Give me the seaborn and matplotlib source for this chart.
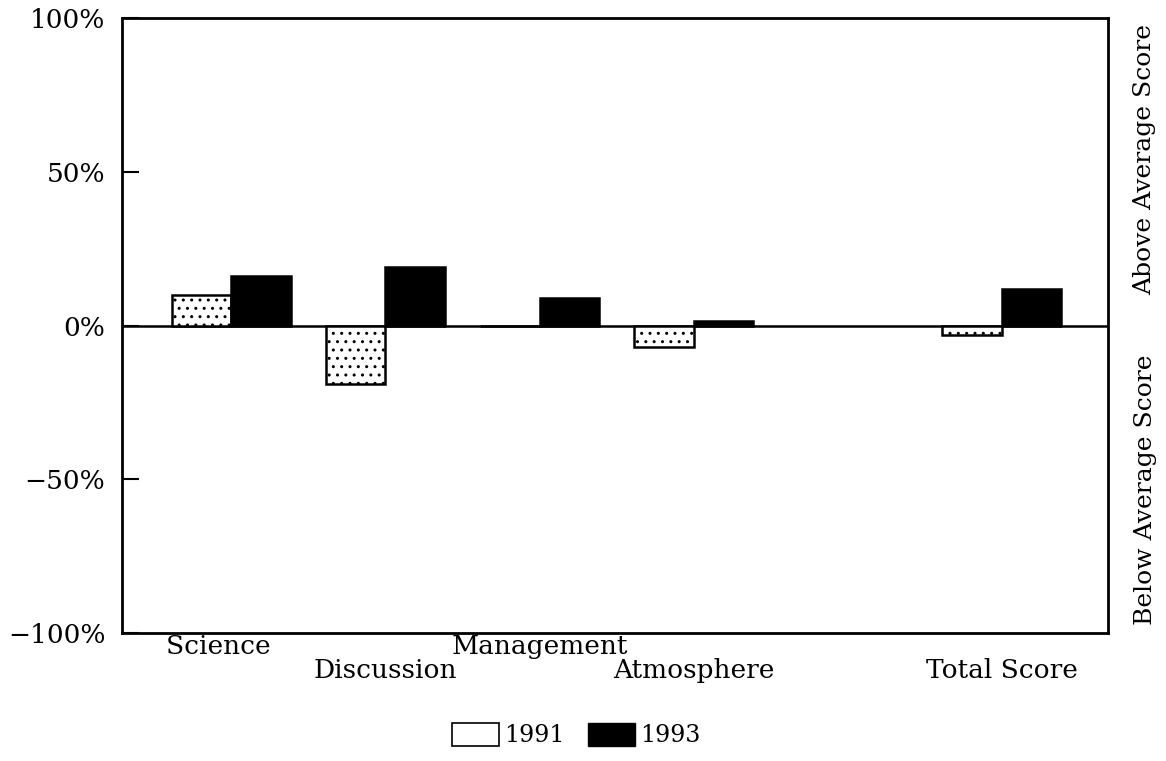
import pandas as pd
import numpy as np
import matplotlib
matplotlib.use("Agg")
import matplotlib.pyplot as plt
import seaborn as sns
from matplotlib.patches import Patch

# Данные (в процентах)
categories = ["Science", "Discussion", "Management", "Atmosphere", " ", "Total Score"]
labels_shown = ["Science   ", "\nDiscussion", "Management", "\nAtmosphere", "", "\nTotal Score"]
years = ["1991", "1993"]
vals_1991 = [10, -19, 0, -7, np.nan, -3]
vals_1993 = [16, 19, 9, 1.5, np.nan, 12]
yticks = [-100, -50, 0, 50, 100]
ytick_labels = ["\u2212100%", "\u221250%", "0%", "50%", "100%"]

df = pd.DataFrame({
    "category": categories * 2,
    "year": ["1991"] * len(categories) + ["1993"] * len(categories),
    "value": vals_1991 + vals_1993,
})

sns.set_style("white")
plt.rcParams["font.family"] = ["DejaVu Serif"]
plt.rcParams["hatch.linewidth"] = 1.0
plt.rcParams["hatch.color"] = "black"
plt.rcParams["text.color"] = "black"
plt.rcParams["xtick.color"] = "black"
plt.rcParams["ytick.color"] = "black"

fig = plt.figure(figsize=(11.66, 7.61), dpi=100)
ax = fig.add_axes([0.1046, 0.1682, 0.8457, 0.8081])

sns.barplot(data=df, x="category", y="value", hue="year", order=categories,
            hue_order=years, palette={"1991": "white", "1993": "black"},
            width=0.77, edgecolor="black", linewidth=1.8, ax=ax, legend=False)

#Точечная штриховка для 1991
for bar in ax.containers[0]:
    bar.set_hatch("..")

ax.axhline(0, color="black", linewidth=1.8, zorder=0.5)
ax.set_xlim(-0.71, 5.69)
ax.set_ylim(-100, 100)
ax.set_yticks(yticks)
ax.set_yticklabels(ytick_labels, fontsize=19)
ax.tick_params(axis="y", direction="in", length=12, width=1.5, left=True, pad=12)
ax.set_xticks(range(len(categories)))
ax.set_xticklabels(labels_shown, fontsize=19, linespacing=0.95)
ax.tick_params(axis="x", length=0, pad=1)
ax.set_xlabel("")
ax.set_ylabel("")
for s in ax.spines.values():
    s.set_linewidth(2)
    s.set_color("black")

fig.text(0.982, 0.79, "Above Average Score", rotation=90, ha="center", va="center", fontsize=18)
fig.text(0.982, 0.356, "Below Average Score", rotation=90, ha="center", va="center", fontsize=18)

handles = [Patch(facecolor="white", edgecolor="black", linewidth=1.2, label="1991"),
           Patch(facecolor="black", edgecolor="black", label="1993")]
fig.legend(handles=handles, loc="center", bbox_to_anchor=(0.494, 0.034), ncol=2,
           frameon=False, fontsize=17, handlelength=2.0, handleheight=1.1,
           handletextpad=0.2, columnspacing=1.0)

fig.savefig("out.png", dpi=100)
